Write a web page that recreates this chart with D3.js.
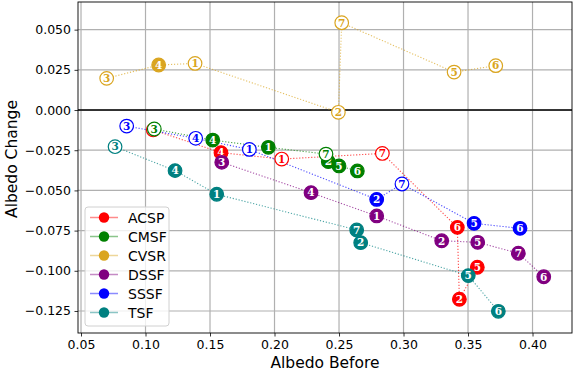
<!DOCTYPE html>
<html>
<head>
<meta charset="utf-8">
<script src="https://cdn.jsdelivr.net/npm/d3@7"></script>
<style>
body { margin: 0; background: #fff; }
svg { display: block; }
</style>
</head>
<body>
<svg id="chart" width="575" height="372"></svg>
<script>
// ---- data ----
const seriesNames = ["ACSP", "CMSF", "CVSR", "DSSF", "SSSF", "TSF"];
const seriesColors = ["#ff0000", "#008000", "#daa520", "#800080", "#0000ff", "#008080"];
const pointLabels = [1, 2, 3, 4, 5, 6, 7];

// albedo before (x) per label 1..7
const ACSP_before = [0.2056, 0.3433, 0.1060, 0.1585, 0.3572, 0.3417, 0.2836];
const ACSP_change = [-0.0305, -0.1177, -0.0124, -0.0265, -0.0978, -0.0730, -0.0270];
const ACSP_filled = [false, true, false, true, true, true, false];

const CMSF_before = [0.1952, 0.2417, 0.1068, 0.1521, 0.2500, 0.2642, 0.2399];
const CMSF_change = [-0.0232, -0.0321, -0.0118, -0.0187, -0.0348, -0.0379, -0.0274];
const CMSF_filled = [true, true, false, true, true, true, false];

const CVSR_before = [0.1384, 0.2495, 0.0699, 0.1102, 0.3392, 0.3715, 0.2521];
const CVSR_change = [0.0290, -0.0014, 0.0197, 0.0280, 0.0236, 0.0276, 0.0543];
const CVSR_filled = [false, false, false, true, false, false, false];

const DSSF_before = [0.2792, 0.3296, 0.1591, 0.2283, 0.3575, 0.4087, 0.3890];
const DSSF_change = [-0.0659, -0.0813, -0.0325, -0.0514, -0.0823, -0.1037, -0.0891];
const DSSF_filled = [true, true, true, true, true, true, true];

const SSSF_before = [0.1805, 0.2792, 0.0854, 0.1389, 0.3547, 0.3903, 0.2988];
const SSSF_change = [-0.0245, -0.0556, -0.0100, -0.0176, -0.0705, -0.0736, -0.0460];
const SSSF_filled = [false, true, false, false, true, true, false];

const TSF_before = [0.1552, 0.2668, 0.0764, 0.1229, 0.3502, 0.3735, 0.2637];
const TSF_change = [-0.0524, -0.0825, -0.0228, -0.0377, -0.1030, -0.1252, -0.0746];
const TSF_filled = [true, true, false, true, true, true, true];

const xTicks = [0.05, 0.10, 0.15, 0.20, 0.25, 0.30, 0.35, 0.40];
const yTicks = [0.050, 0.025, 0.000, -0.025, -0.050, -0.075, -0.100, -0.125];
const xLabel = "Albedo Before";
const yLabel = "Albedo Change";

const seriesData = [
  [ACSP_before, ACSP_change, ACSP_filled],
  [CMSF_before, CMSF_change, CMSF_filled],
  [CVSR_before, CVSR_change, CVSR_filled],
  [DSSF_before, DSSF_change, DSSF_filled],
  [SSSF_before, SSSF_change, SSSF_filled],
  [TSF_before, TSF_change, TSF_filled]
];

// ---- layout ----
const W = 575, H = 372;
const m = { left: 78, right: 3, top: 2, bottom: 39 };
const svg = d3.select("#chart");

const x = d3.scaleLinear().domain([0.04767, 0.4306]).range([m.left, W - m.right]);
const y = d3.scaleLinear().domain([-0.1387, 0.0672]).range([H - m.bottom, m.top]);

const series = seriesNames.map((name, i) => {
  const [bx, cy, filled] = seriesData[i];
  const pts = pointLabels.map((lab, j) => ({ label: lab, x: bx[j], y: cy[j], filled: filled[j] }));
  return { name, color: seriesColors[i], pts };
});

// grid
const grid = svg.append("g");
xTicks.forEach(t => grid.append("line")
  .attr("x1", x(t)).attr("x2", x(t)).attr("y1", m.top).attr("y2", H - m.bottom)
  .attr("stroke", "#b0b0b0").attr("stroke-width", 1.2));
yTicks.forEach(t => grid.append("line")
  .attr("y1", y(t)).attr("y2", y(t)).attr("x1", m.left).attr("x2", W - m.right)
  .attr("stroke", "#b0b0b0").attr("stroke-width", 1.2));

// zero line
svg.append("line").attr("x1", m.left).attr("x2", W - m.right)
  .attr("y1", y(0)).attr("y2", y(0)).attr("stroke", "#000").attr("stroke-width", 1.6);

// axes
const fmtY = d => d3.format(".3f")(d).replace("-", "\u2212");
const xAxis = d3.axisBottom(x).tickValues(xTicks).tickFormat(d3.format(".2f")).tickSize(3.5).tickPadding(3.5);
const yAxis = d3.axisLeft(y).tickValues(yTicks).tickFormat(fmtY).tickSize(3.5).tickPadding(3.5);
const gx = svg.append("g").attr("transform", `translate(0,${H - m.bottom})`).call(xAxis);
const gy = svg.append("g").attr("transform", `translate(${m.left},0)`).call(yAxis);
[gx, gy].forEach(g => {
  g.select(".domain").remove();
  g.selectAll("text").attr("font-family", "DejaVu Sans").attr("font-size", 12.5).attr("fill", "#000");
  g.selectAll("line").attr("stroke", "#000").attr("stroke-width", 0.8);
});

// spines
svg.append("rect").attr("x", m.left).attr("y", m.top)
  .attr("width", W - m.left - m.right).attr("height", H - m.top - m.bottom)
  .attr("fill", "none").attr("stroke", "#000").attr("stroke-width", 0.9);

// lines (points connected in order of albedo before)
const line = d3.line().x(d => x(d.x)).y(d => y(d.y));
series.forEach(s => {
  const sorted = s.pts.slice().sort((a, b) => a.x - b.x);
  svg.append("path").attr("d", line(sorted))
    .attr("fill", "none").attr("stroke", s.color).attr("stroke-width", 1.1)
    .attr("stroke-dasharray", "1.2,1.8").attr("opacity", 0.7);
});

// markers
series.forEach(s => {
  const g = svg.append("g");
  s.pts.forEach(p => {
    const mk = g.append("g").attr("transform", `translate(${x(p.x)},${y(p.y)})`);
    mk.append("circle").attr("r", 6.8)
      .attr("fill", p.filled ? s.color : "#fff")
      .attr("stroke", s.color).attr("stroke-width", 1.2);
    mk.append("text").text(p.label)
      .attr("text-anchor", "middle").attr("dy", "0.36em")
      .attr("font-family", "DejaVu Serif").attr("font-weight", "bold").attr("font-size", 10.5)
      .attr("fill", p.filled ? "#fff" : s.color);
  });
});

// axis labels
svg.append("text").text(xLabel)
  .attr("x", (m.left + W - m.right) / 2).attr("y", 368)
  .attr("text-anchor", "middle").attr("font-family", "DejaVu Sans").attr("font-size", 15.5).attr("fill", "#000");
svg.append("text").text(yLabel)
  .attr("transform", `translate(17,159) rotate(-90)`)
  .attr("text-anchor", "middle").attr("font-family", "DejaVu Sans").attr("font-size", 15.5).attr("fill", "#000");

// legend
const lg = svg.append("g");
lg.append("rect").attr("x", 85).attr("y", 207).attr("width", 84).attr("height", 119)
  .attr("rx", 3).attr("fill", "#fff").attr("fill-opacity", 0.8)
  .attr("stroke", "#d0d0d0").attr("stroke-width", 1);
series.forEach((s, i) => {
  const cy = 217.5 + i * 19;
  lg.append("line").attr("x1", 90).attr("x2", 118).attr("y1", cy).attr("y2", cy)
    .attr("stroke", s.color).attr("stroke-width", 1.5).attr("opacity", 0.45);
  lg.append("circle").attr("cx", 104).attr("cy", cy).attr("r", 5.2).attr("fill", s.color);
  lg.append("text").text(s.name).attr("x", 128).attr("y", cy).attr("dy", "0.36em")
    .attr("font-family", "DejaVu Sans").attr("font-size", 14).attr("fill", "#000");
});
</script>
</body>
</html>
